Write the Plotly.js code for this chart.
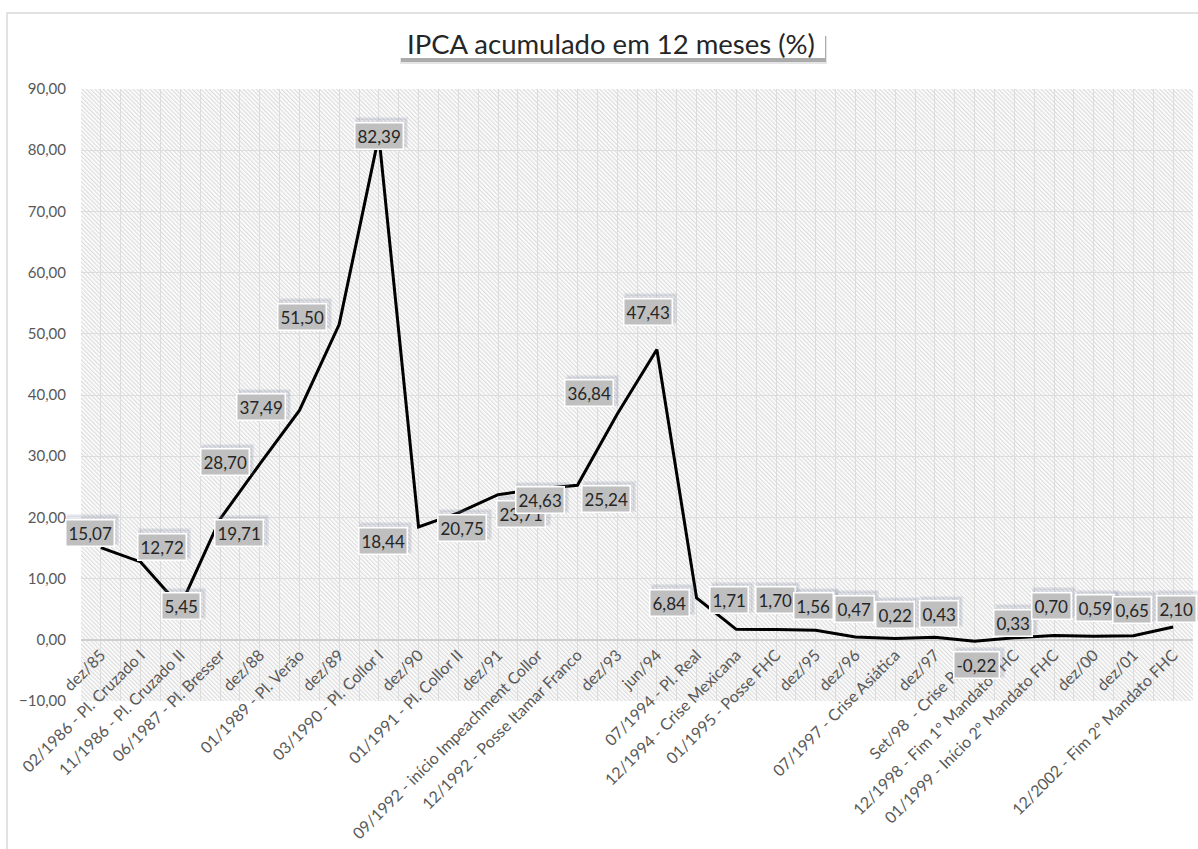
<!DOCTYPE html>
<html><head><meta charset="utf-8">
<script src="https://cdn.plot.ly/plotly-3.0.1.min.js"></script>
<style>html,body{margin:0;padding:0;background:#fff}#chart{width:1198px;height:849px}</style>
</head><body><div id="chart"></div>
<script>
// ---- data ----
const categories = [
  "dez/85", "02/1986 - Pl. Cruzado I", "11/1986 - Pl. Cruzado II", "06/1987 - Pl. Bresser",
  "dez/88", "01/1989 - Pl. Verão", "dez/89", "03/1990 - Pl. Collor I", "dez/90",
  "01/1991 - Pl. Collor II", "dez/91", "09/1992 - início Impeachment Collor",
  "12/1992 - Posse Itamar Franco", "dez/93", "jun/94", "07/1994 - Pl. Real",
  "12/1994 - Crise Mexicana", "01/1995 - Posse FHC", "dez/95", "dez/96",
  "07/1997 - Crise Asiática", "dez/97", "Set/98  - Crise Russa",
  "12/1998 - Fim 1º Mandato FHC", "01/1999 - Início 2º Mandato FHC", "dez/00", "dez/01",
  "12/2002 - Fim 2º Mandato FHC"
];
const values = [
  15.07, 12.72, 5.45, 19.71, 28.70, 37.49, 51.50, 82.39, 18.44, 20.75, 23.71, 24.63,
  25.24, 36.84, 47.43, 6.84, 1.71, 1.70, 1.56, 0.47, 0.22, 0.43, -0.22, 0.33, 0.70,
  0.59, 0.65, 2.10
];
const yTickValues = [-10, 0, 10, 20, 30, 40, 50, 60, 70, 80, 90];

// ---- label placement (screen px offsets: [dx, dy], dy down) ----
const labelOffsets = [
  [-11,-15],[21,-15],[1,0],[19,14],[-35,-2],[-38,-3],[-37,-8],[0,0],[-36,14],[4,15],
  [23,19],[2,11],[29,14],[-28,-21],[-9,-38],[-27,5],[-7,-29],[-1,-29],[-2,-24],[-1,-28],
  [0,-23],[4,-23],[2,24],[-1,-15],[-3,-30],[1,-28],[-1,-26],[3,-18]
];

// ---- geometry helpers ----
const W = 1198, H = 849;
const M = {l: 81, r: 5, t: 89, b: 148};
const PW = W - M.l - M.r, PH = H - M.t - M.b;
const px2x = px => (px - M.l) / PW;
const py2y = py => (M.t + PH - py) / PH;

const xIdx = categories.map((_, i) => i);
const fmt = v => v.toFixed(2).replace('.', ',');

// hatch background
const hatchSvg = `<svg xmlns="http://www.w3.org/2000/svg" width="${PW}" height="${PH}" viewBox="0 0 ${PW} ${PH}">
<defs><pattern id="h" width="3" height="3" patternUnits="userSpaceOnUse" patternTransform="rotate(-45)">
<rect width="3" height="3" fill="#ffffff"/><line x1="0.75" y1="0" x2="0.75" y2="3" stroke="#d2d2d2" stroke-width="1"/></pattern></defs>
<rect width="${PW}" height="${PH}" fill="url(#h)"/></svg>`;
const hatchSrc = 'data:image/svg+xml;charset=utf-8,' + encodeURIComponent(hatchSvg);

const annotations = [];
values.forEach((v, i) => {
  const [dx, dy] = labelOffsets[i];
  annotations.push({
    x: i, y: v, xref: 'x', yref: 'y', showarrow: false,
    text: fmt(v), xshift: dx + 3, yshift: -dy + 3,
    font: {family: 'Lato', size: 17, color: 'rgba(0,0,0,0)'},
    bgcolor: 'rgba(120,135,160,0.18)', bordercolor: 'rgba(120,135,160,0.12)',
    borderwidth: 3, borderpad: 2
  });
  annotations.push({
    x: i, y: v, xref: 'x', yref: 'y', showarrow: false,
    text: fmt(v), xshift: dx, yshift: -dy,
    font: {family: 'Lato', size: 17, color: '#262626'},
    bgcolor: '#bfbfbf', bordercolor: '#ffffff', borderwidth: 1.5, borderpad: 2
  });
});

const shapes = [
  {type: 'rect', xref: 'paper', yref: 'paper', x0: px2x(7), x1: px2x(1215), y0: py2y(13), y1: py2y(870),
   line: {color: '#d9d9d9', width: 1.5}, fillcolor: 'rgba(0,0,0,0)'},
  {type: 'rect', xref: 'paper', yref: 'paper', x0: px2x(400), x1: px2x(827), y0: py2y(36), y1: py2y(64),
   line: {width: 0}, fillcolor: 'rgba(0,0,0,0.10)'},
  {type: 'rect', xref: 'paper', yref: 'paper', x0: px2x(401), x1: px2x(826), y0: py2y(36), y1: py2y(62),
   line: {width: 0}, fillcolor: 'rgba(0,0,0,0.25)'},
  {type: 'rect', xref: 'paper', yref: 'paper', x0: px2x(400), x1: px2x(825), y0: py2y(29), y1: py2y(58),
   line: {width: 0}, fillcolor: '#ffffff'}
];

const trace = {
  type: 'scatter', mode: 'lines', x: xIdx, y: values,
  line: {color: '#000000', width: 3}, hoverinfo: 'skip', showlegend: false
};

const yMin = -10, yMax = 90;
const layout = {
  width: W, height: H,
  margin: M,
  paper_bgcolor: '#ffffff', plot_bgcolor: '#ffffff',
  separators: ',.',
  font: {family: 'Lato', color: '#595959'},
  title: {
    text: 'IPCA acumulado em 12 meses (%)',
    font: {family: 'Lato', size: 27.5, color: '#262626'},
    xref: 'container', x: 611 / W, xanchor: 'center',
    yref: 'container', y: 1 - 44 / H, yanchor: 'middle'
  },
  xaxis: {
    range: [-0.5, categories.length - 0.5],
    tickmode: 'array', tickvals: xIdx, ticktext: categories,
    tickangle: -45, tickfont: {family: 'Lato', size: 16, color: '#595959'},
    ticklabelstandoff: 2,
    showgrid: true, gridcolor: '#dcdcdc', gridwidth: 1,
    minor: {tickmode: 'array', tickvals: categories.map((_, i) => i - 0.5).concat([categories.length - 0.5]),
            showgrid: true, gridcolor: '#dcdcdc', gridwidth: 1, ticks: ''},
    zeroline: false, showline: false, ticks: '',
    anchor: 'free', position: (0 - yMin) / (yMax - yMin),
    automargin: false, fixedrange: true
  },
  yaxis: {
    range: [yMin, yMax], tickmode: 'array', tickvals: yTickValues,
    tickformat: '.2f', tickfont: {family: 'Lato', size: 15, color: '#595959'},
    showgrid: true, gridcolor: '#dcdcdc', gridwidth: 1,
    zeroline: true, zerolinecolor: '#cfcfcf', zerolinewidth: 2.5,
    showline: false, ticks: '', ticklabelstandoff: 14,
    automargin: false, fixedrange: true
  },
  images: [{source: hatchSrc, xref: 'paper', yref: 'paper', x: 0, y: 1, sizex: 1, sizey: 1,
            xanchor: 'left', yanchor: 'top', sizing: 'stretch', layer: 'below'}],
  shapes: shapes,
  annotations: annotations
};

Plotly.newPlot('chart', [trace], layout, {displayModeBar: false, staticPlot: true});
</script>
</body></html>
